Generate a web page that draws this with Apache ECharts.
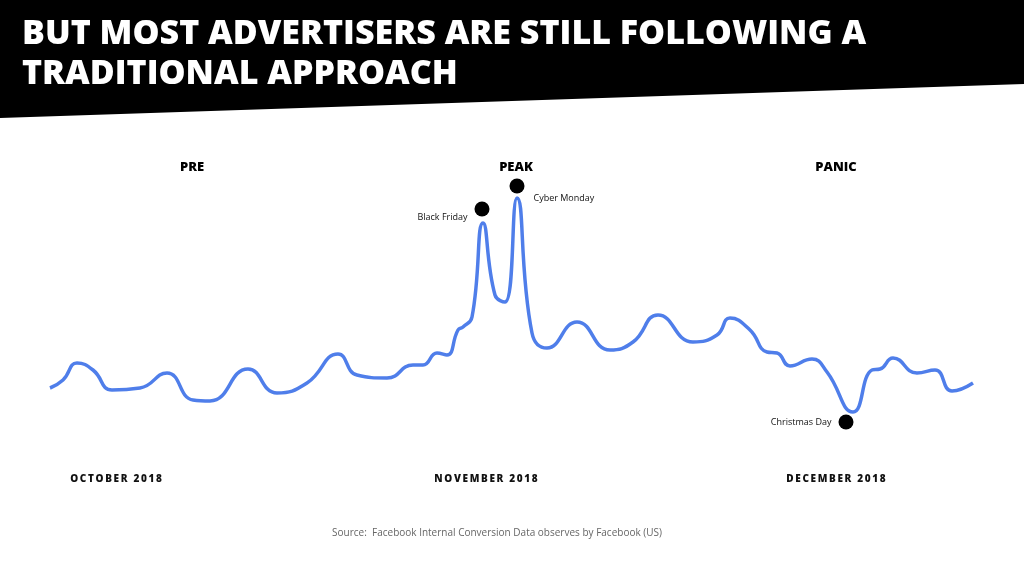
<!DOCTYPE html><html><head><meta charset="utf-8"><script src="https://cdn.jsdelivr.net/npm/echarts@6/dist/echarts.min.js"></script>
<style>html,body{margin:0;background:#fff}#c{width:1024px;height:573px}</style></head><body><div id="c"></div><script>
// timeline position (arbitrary day-like units) and conversion index level
const timeline=[0,1.3,2.7,4.3,6.2,9,11.7,14.3,16,19.8,22.7,25.7,28.8,30.7,33.7,36.3,37.3,38.7,39.7,40.8,41.3,42.2,43.3,44.5,45.5,46.7,48.2,49.7,52.7,56,58.3,60.8,64.3,66.7,68,70,71.7,72.7,74,76.2,77.7,80.3,82.2,83,84.3,86.7,88.5,90.2,92.3];
const level=[185,193,210,203,183,185,200,173,172,204,180,190,219,198,195,208,208,220,218,243,246,256,350,278,271,375,240,225,251,223,231,258,231,238,255,243,221,220,207,214,201,161,203,204,215,200,203,182,190];
const events=['Black Friday','Cyber Monday','Christmas Day'];
const eventPos=[43.2,46.7,79.6];
const eventLevel=[364,387,151];
const phases=['PRE','PEAK','PANIC'];
const months=['OCTOBER 2018','NOVEMBER 2018','DECEMBER 2018'];
const title=['BUT MOST ADVERTISERS ARE STILL FOLLOWING A','TRADITIONAL APPROACH'];
const source='Source:  Facebook Internal Conversion Data observes by Facebook (US)';
const ch=echarts.init(document.getElementById('c'));
const F='"Open Sans", sans-serif';
ch.setOption({animation:false,
grid:{left:50,right:51,top:0,bottom:0},
xAxis:{type:'value',min:0,max:92.3,show:false},
yAxis:{type:'value',min:0,max:573,show:false},
graphic:[
{type:'polygon',shape:{points:[[0,0],[1024,0],[1024,84],[0,118]]},style:{fill:'#000'}},
{type:'text',left:22,top:14,style:{text:title.join('\n'),fill:'#fff',font:'800 34px '+F,lineHeight:40}},
...phases.map((p,i)=>({type:'text',x:[192,516,836][i],y:167,style:{text:p,fill:'#000',font:'800 13px '+F,align:'center',verticalAlign:'middle'}})),
...months.map((p,i)=>({type:'text',x:[116,486,836][i],y:479,style:{text:p.split('').join('\u2009'),fill:'#111',font:'800 10px '+F,align:'center',verticalAlign:'middle'}})),
{type:'text',x:497,y:533,style:{text:source,fill:'#666',font:'10px '+F,align:'center',verticalAlign:'middle'}}
],
series:[
{type:'line',smooth:0.5,symbol:'none',data:timeline.map((t,i)=>[t,level[i]]),lineStyle:{color:'#4f7eea',width:3.5}},
{type:'scatter',symbolSize:15,itemStyle:{color:'#000',opacity:1},data:eventPos.map((t,i)=>({value:[t,eventLevel[i]],name:events[i],label:{show:true,position:i===1?'right':'left',offset:i===1?[4,12]:[-2,i===0?8:0],formatter:events[i],color:'#111',fontSize:9,fontFamily:F}}))}
]});
</script></body></html>
